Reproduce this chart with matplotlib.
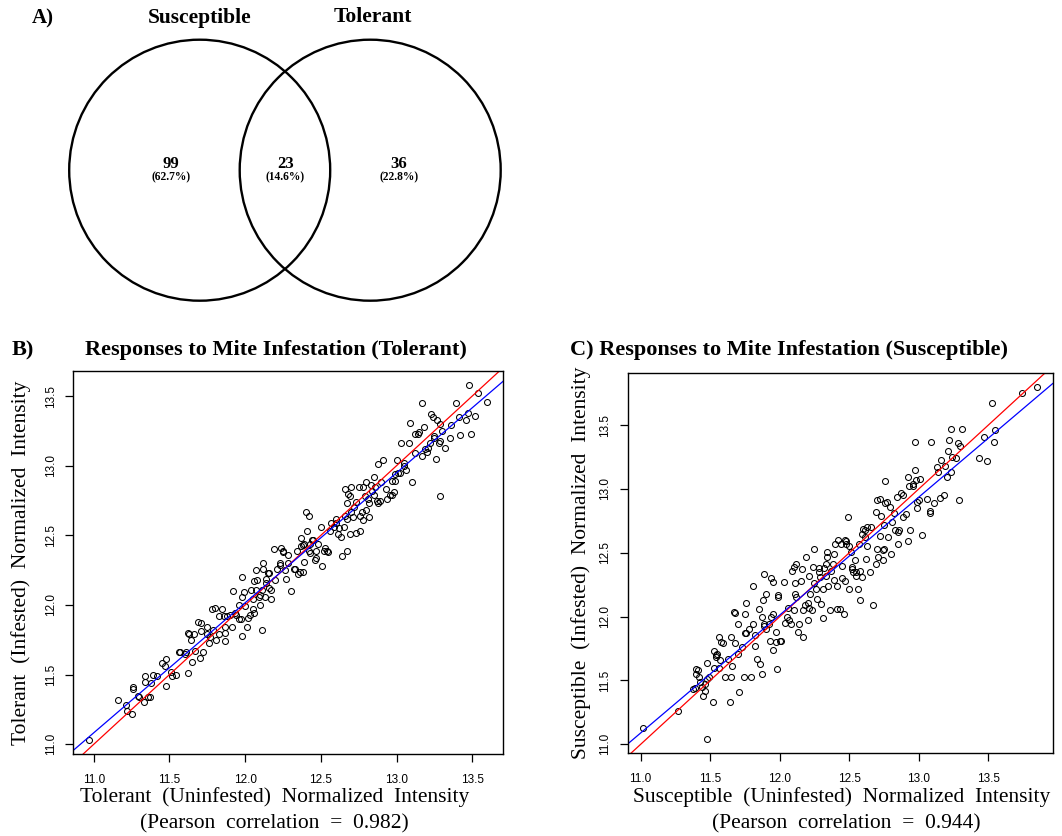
import numpy as np
import matplotlib
matplotlib.use("Agg")
import matplotlib.pyplot as plt
from matplotlib.patches import Circle

# ---------------- data ----------------
venn_sets = ["Susceptible", "Tolerant"]
venn_counts = [99, 23, 36]          # susceptible only, shared, tolerant only

tol_uninf = [10.97, 11.16, 11.21, 11.22, 11.25, 11.26, 11.26, 11.29, 11.30, 11.33,
             11.34, 11.34, 11.36, 11.37, 11.38, 11.39, 11.42, 11.45, 11.47, 11.48,
             11.48, 11.51, 11.52, 11.54, 11.56, 11.57, 11.60, 11.61, 11.62, 11.63,
             11.62, 11.64, 11.65, 11.66, 11.67, 11.69, 11.71, 11.70, 11.71, 11.72,
             11.75, 11.75, 11.76, 11.77, 11.78, 11.80, 11.79, 11.81, 11.83, 11.83,
             11.85, 11.86, 11.87, 11.87, 11.87, 11.88, 11.90, 11.91, 11.92, 11.93,
             11.94, 11.96, 11.96, 11.97, 11.98, 11.98, 11.98, 11.99, 12.00, 12.01,
             12.02, 12.03, 12.04, 12.05, 12.05, 12.06, 12.06, 12.07, 12.07, 12.08,
             12.09, 12.10, 12.10, 12.11, 12.11, 12.12, 12.12, 12.13, 12.14, 12.14,
             12.15, 12.16, 12.16, 12.17, 12.17, 12.19, 12.20, 12.21, 12.23, 12.23,
             12.24, 12.25, 12.25, 12.26, 12.27, 12.28, 12.28, 12.30, 12.32, 12.33,
             12.34, 12.35, 12.36, 12.37, 12.37, 12.38, 12.38, 12.39, 12.39, 12.40,
             12.41, 12.42, 12.42, 12.43, 12.43, 12.44, 12.45, 12.46, 12.47, 12.47,
             12.48, 12.50, 12.51, 12.52, 12.53, 12.54, 12.55, 12.56, 12.57, 12.59,
             12.60, 12.60, 12.61, 12.62, 12.63, 12.64, 12.65, 12.66, 12.66, 12.67,
             12.67, 12.67, 12.68, 12.69, 12.69, 12.70, 12.70, 12.71, 12.72, 12.73,
             12.73, 12.75, 12.76, 12.76, 12.77, 12.78, 12.78, 12.79, 12.80, 12.80,
             12.81, 12.82, 12.82, 12.83, 12.84, 12.85, 12.85, 12.86, 12.87, 12.88,
             12.88, 12.89, 12.90, 12.91, 12.93, 12.94, 12.96, 12.97, 12.97, 12.98,
             12.99, 12.99, 13.00, 13.01, 13.02, 13.03, 13.05, 13.05, 13.06, 13.08,
             13.09, 13.10, 13.12, 13.12, 13.14, 13.15, 13.17, 13.17, 13.18, 13.19,
             13.20, 13.21, 13.22, 13.23, 13.24, 13.25, 13.25, 13.26, 13.27, 13.28,
             13.29, 13.29, 13.29, 13.30, 13.32, 13.35, 13.36, 13.39, 13.41, 13.42,
             13.46, 13.47, 13.48, 13.49, 13.52, 13.54, 13.60]
tol_inf = [11.03, 11.32, 11.28, 11.24, 11.22, 11.41, 11.40, 11.35, 11.34, 11.30,
           11.49, 11.45, 11.34, 11.34, 11.44, 11.50, 11.49, 11.58, 11.56, 11.42,
           11.61, 11.52, 11.49, 11.50, 11.66, 11.66, 11.65, 11.66, 11.80, 11.79,
           11.51, 11.75, 11.59, 11.79, 11.67, 11.88, 11.87, 11.62, 11.81, 11.66,
           11.84, 11.79, 11.73, 11.77, 11.97, 11.98, 11.82, 11.75, 11.79, 11.92,
           11.97, 11.92, 11.84, 11.74, 11.80, 11.92, 11.93, 11.84, 12.10, 11.94,
           11.93, 12.00, 11.90, 11.90, 11.78, 12.06, 12.20, 12.09, 11.99, 11.84,
           11.91, 11.93, 12.11, 12.04, 11.97, 11.94, 12.17, 12.11, 12.25, 12.18,
           12.06, 12.00, 12.07, 12.11, 11.82, 12.30, 12.26, 12.06, 12.19, 12.16,
           12.23, 12.23, 12.12, 12.04, 12.11, 12.40, 12.18, 12.26, 12.30, 12.29,
           12.41, 12.39, 12.38, 12.25, 12.19, 12.36, 12.30, 12.10, 12.26, 12.26,
           12.39, 12.22, 12.24, 12.42, 12.48, 12.43, 12.24, 12.31, 12.44, 12.67,
           12.53, 12.64, 12.39, 12.37, 12.44, 12.47, 12.47, 12.32, 12.34, 12.39,
           12.44, 12.56, 12.28, 12.39, 12.41, 12.39, 12.38, 12.53, 12.59, 12.56,
           12.59, 12.62, 12.51, 12.55, 12.49, 12.35, 12.56, 12.83, 12.64, 12.39,
           12.73, 12.62, 12.80, 12.78, 12.51, 12.85, 12.67, 12.63, 12.70, 12.52,
           12.74, 12.85, 12.64, 12.53, 12.67, 12.61, 12.85, 12.78, 12.88, 12.68,
           12.76, 12.73, 12.63, 12.86, 12.82, 12.92, 12.79, 12.85, 12.75, 13.01,
           12.73, 12.75, 12.88, 13.04, 12.83, 12.76, 12.79, 12.89, 12.79, 12.81,
           12.94, 12.89, 13.04, 12.95, 12.95, 13.16, 13.02, 13.00, 12.97, 13.16,
           13.31, 12.88, 13.09, 13.23, 13.23, 13.24, 13.07, 13.45, 13.28, 13.12,
           13.10, 13.13, 13.16, 13.37, 13.35, 13.20, 13.21, 13.05, 13.33, 13.16,
           13.18, 13.30, 12.78, 13.25, 13.13, 13.20, 13.29, 13.45, 13.35, 13.22,
           13.33, 13.38, 13.58, 13.23, 13.36, 13.52, 13.46]

sus_uninf = [11.02, 11.27, 11.48, 11.38, 11.39, 11.40, 11.40, 11.41, 11.42, 11.43,
             11.44, 11.45, 11.46, 11.46, 11.48, 11.48, 11.49, 11.52, 11.53, 11.53,
             11.54, 11.54, 11.55, 11.56, 11.56, 11.57, 11.58, 11.59, 11.61, 11.63,
             11.64, 11.65, 11.65, 11.66, 11.67, 11.68, 11.68, 11.70, 11.70, 11.71,
             11.73, 11.74, 11.75, 11.75, 11.76, 11.76, 11.78, 11.79, 11.81, 11.81,
             11.82, 11.82, 11.84, 11.85, 11.86, 11.87, 11.87, 11.88, 11.89, 11.89,
             11.89, 11.90, 11.90, 11.92, 11.93, 11.94, 11.94, 11.95, 11.95, 11.95,
             11.97, 11.97, 11.98, 11.99, 11.99, 12.00, 12.01, 12.03, 12.04, 12.05,
             12.06, 12.07, 12.08, 12.09, 12.10, 12.10, 12.11, 12.11, 12.12, 12.12,
             12.13, 12.14, 12.15, 12.16, 12.17, 12.17, 12.18, 12.19, 12.20, 12.20,
             12.21, 12.21, 12.22, 12.23, 12.24, 12.25, 12.25, 12.26, 12.27, 12.28,
             12.28, 12.29, 12.30, 12.31, 12.31, 12.32, 12.33, 12.33, 12.34, 12.34,
             12.35, 12.36, 12.37, 12.38, 12.39, 12.39, 12.40, 12.41, 12.41, 12.42,
             12.43, 12.44, 12.45, 12.45, 12.46, 12.47, 12.47, 12.48, 12.48, 12.49,
             12.50, 12.50, 12.51, 12.52, 12.52, 12.53, 12.54, 12.55, 12.55, 12.56,
             12.57, 12.58, 12.58, 12.59, 12.59, 12.60, 12.61, 12.61, 12.62, 12.63,
             12.63, 12.65, 12.66, 12.67, 12.69, 12.69, 12.70, 12.70, 12.71, 12.72,
             12.72, 12.73, 12.74, 12.74, 12.75, 12.75, 12.76, 12.76, 12.77, 12.78,
             12.79, 12.80, 12.81, 12.82, 12.83, 12.84, 12.85, 12.85, 12.86, 12.87,
             12.89, 12.89, 12.91, 12.92, 12.92, 12.93, 12.94, 12.96, 12.96, 12.97,
             12.97, 12.98, 12.99, 12.99, 13.00, 13.01, 13.02, 13.06, 13.08, 13.08,
             13.09, 13.11, 13.13, 13.14, 13.15, 13.16, 13.18, 13.19, 13.20, 13.21,
             13.22, 13.23, 13.23, 13.24, 13.27, 13.28, 13.29, 13.30, 13.31, 13.43,
             13.47, 13.49, 13.53, 13.54, 13.55, 13.74, 13.85]
sus_inf = [11.13, 11.26, 11.04, 11.43, 11.44, 11.55, 11.59, 11.58, 11.53, 11.49,
           11.45, 11.38, 11.42, 11.47, 11.64, 11.51, 11.53, 11.33, 11.60, 11.73,
           11.70, 11.68, 11.71, 11.84, 11.60, 11.66, 11.80, 11.79, 11.53, 11.67,
           11.33, 11.53, 11.84, 11.61, 12.04, 12.03, 11.79, 11.94, 11.71, 11.41,
           11.76, 11.53, 12.02, 11.87, 11.87, 12.11, 11.90, 11.53, 11.94, 12.24,
           11.77, 11.86, 11.67, 12.06, 11.63, 11.55, 12.00, 12.13, 11.94, 11.93,
           12.33, 12.18, 11.90, 11.94, 11.81, 12.30, 12.00, 12.27, 11.74, 12.02,
           11.88, 11.80, 11.59, 12.15, 12.17, 11.81, 11.81, 12.27, 11.95, 12.00,
           12.07, 11.97, 11.94, 12.36, 12.39, 12.05, 12.26, 12.18, 12.15, 12.41,
           11.88, 11.94, 12.28, 12.37, 11.84, 12.05, 12.09, 12.47, 12.11, 11.97,
           12.32, 12.07, 12.18, 12.05, 12.39, 12.53, 12.26, 12.22, 12.14, 12.35,
           12.38, 12.31, 12.10, 11.99, 12.22, 12.38, 12.32, 12.41, 12.47, 12.51,
           12.24, 12.05, 12.36, 12.41, 12.29, 12.49, 12.57, 12.24, 12.06, 12.60,
           12.06, 12.57, 12.40, 12.30, 12.02, 12.60, 12.28, 12.59, 12.57, 12.78,
           12.22, 12.55, 12.51, 12.39, 12.37, 12.35, 12.44, 12.32, 12.35, 12.22,
           12.57, 12.36, 12.13, 12.31, 12.65, 12.69, 12.62, 12.68, 12.45, 12.55,
           12.70, 12.35, 12.70, 12.09, 12.82, 12.41, 12.91, 12.53, 12.47, 12.92,
           12.63, 12.79, 12.52, 12.44, 12.53, 12.72, 12.89, 13.06, 12.90, 12.62,
           12.86, 12.49, 12.74, 12.81, 12.68, 12.94, 12.57, 12.66, 12.68, 12.97,
           12.78, 12.95, 12.80, 12.59, 13.09, 13.02, 12.68, 13.02, 13.04, 13.37,
           13.15, 13.07, 12.90, 12.85, 12.91, 13.08, 12.64, 12.92, 12.83, 12.81,
           13.37, 12.89, 13.17, 13.13, 12.93, 13.23, 12.95, 13.18, 13.09, 13.30,
           13.38, 13.47, 13.13, 13.25, 13.24, 13.36, 12.91, 13.34, 13.47, 13.24,
           13.41, 13.22, 13.67, 13.37, 13.46, 13.75, 13.80]

pearson_r = [0.982, 0.944]
tick_values = [11.0, 11.5, 12.0, 12.5, 13.0, 13.5]

# ---------------- figure ----------------
W, H = 1062, 836
fig = plt.figure(figsize=(W / 100, H / 100), dpi=100)
serif = "Liberation Serif"
sans = "Liberation Sans"

# overlay in pixel coordinates for the Venn diagram and free text
ov = fig.add_axes([0, 0, 1, 1])
ov.set_xlim(0, W)
ov.set_ylim(H, 0)
ov.axis("off")

# --- Venn diagram (panel A) ---
r = 130.5
centers = [(199.7, 170.2), (370.2, 170.2)]
for (cx, cy) in centers:
    ov.add_patch(Circle((cx, cy), r, fill=False, edgecolor="black", linewidth=1.7))

total = sum(venn_counts)
count_x = [171, 285.5, 399]
for cnt, xx in zip(venn_counts, count_x):
    ov.text(xx, 164, f"{cnt}", ha="center", va="center", family=serif,
            fontweight="bold", fontsize=12)
    ov.text(xx, 177, f"({100 * cnt / total:.1f}%)", ha="center", va="center",
            family=serif, fontweight="bold", fontsize=8.3)

ov.text(43, 18, "A)", ha="center", va="center", family=serif, fontweight="bold", fontsize=15)
ov.text(199.3, 17.5, venn_sets[0], ha="center", va="center", family=serif,
        fontweight="bold", fontsize=15.5)
ov.text(372.5, 17.5, venn_sets[1], ha="center", va="center", family=serif,
        fontweight="bold", fontsize=15.5)


def scatter_panel(rect, x, y, xlabel, ylabel, r_val, lab_pos):
    ax = fig.add_axes(rect)
    ax.plot(x, y, linestyle="none", marker="o", markersize=4.3,
            markerfacecolor="none", markeredgecolor="black", markeredgewidth=0.75)
    ax.margins(0.04)
    ax.axline((12, 12), slope=1, color="red", linewidth=0.9)
    slope, intercept = np.polyfit(x, y, 1)
    ax.axline((12, 12 * slope + intercept), slope=slope, color="blue", linewidth=0.9)
    ax.set_xticks(tick_values)
    ax.set_yticks(tick_values)
    ax.set_xticklabels([f"{t:.1f}" for t in tick_values], family=sans, fontsize=8.5)
    ax.set_yticklabels([f"{t:.1f}" for t in tick_values], family=sans, fontsize=8.5,
                       rotation=90, va="center")
    ax.tick_params(direction="out", length=6, width=0.9, color="black")
    ax.tick_params(axis="x", pad=8)
    ax.tick_params(axis="y", pad=6)
    for sp in ax.spines.values():
        sp.set_linewidth(1.0)
    xl, pl, yl = lab_pos
    ov.text(xl[0], xl[1], xlabel, ha="center", va="center", family=serif, fontsize=15.5)
    ov.text(pl[0], pl[1], f"(Pearson  correlation  =  {r_val:.3f})", ha="center",
            va="center", family=serif, fontsize=15.5)
    ov.text(yl[0], yl[1], ylabel, ha="center", va="center", family=serif,
            fontsize=15.5, rotation=90)
    return ax


axB = scatter_panel([73.3 / W, 1 - 754.3 / H, 430 / W, 383.6 / H],
                    tol_uninf, tol_inf,
                    "Tolerant  (Uninfested)  Normalized  Intensity",
                    "Tolerant  (Infested)  Normalized  Intensity",
                    pearson_r[0], ((274.7, 797), (274.7, 823.5), (21.5, 563)))
axC = scatter_panel([627.7 / W, 1 - 753.3 / H, 425 / W, 380.6 / H],
                    sus_uninf, sus_inf,
                    "Susceptible  (Uninfested)  Normalized  Intensity",
                    "Susceptible  (Infested)  Normalized  Intensity",
                    pearson_r[1], ((842, 797), (846.5, 823.5), (581, 563)))

ov.text(22.8, 350, "B)", ha="center", va="center", family=serif, fontweight="bold", fontsize=16)
ov.text(275.7, 350, "Responses to Mite Infestation (Tolerant)", ha="center", va="center",
        family=serif, fontweight="bold", fontsize=16)
ov.text(789.3, 350, "C) Responses to Mite Infestation (Susceptible)", ha="center",
        va="center", family=serif, fontweight="bold", fontsize=16)

fig.savefig("out.png", dpi=100)
